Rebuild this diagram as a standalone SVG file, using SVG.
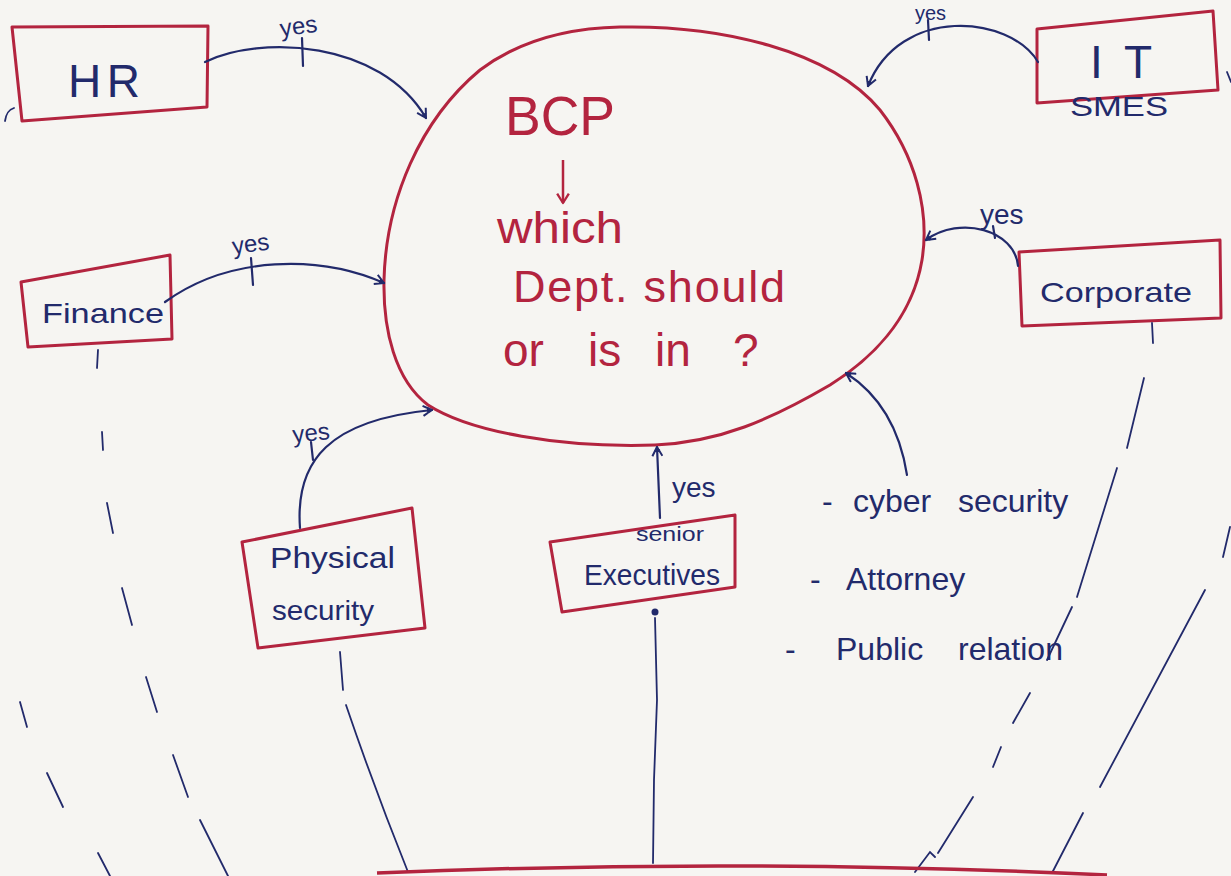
<svg xmlns="http://www.w3.org/2000/svg" width="1231" height="876" viewBox="0 0 1231 876">
  <defs>
    <marker id="head" viewBox="0 0 12 12" refX="10" refY="6" markerWidth="12" markerHeight="12" markerUnits="userSpaceOnUse" orient="auto">
      <path d="M1,1 L10,6 L1,11 M6,3 L6,9" fill="none" stroke="#222a6b" stroke-width="2" stroke-linejoin="round"/>
    </marker>
    <marker id="headRed" viewBox="0 0 12 12" refX="10" refY="6" markerWidth="14" markerHeight="14" markerUnits="userSpaceOnUse" orient="auto">
      <path d="M2,1 L10,6 L2,11" fill="none" stroke="#b3243f" stroke-width="2" stroke-linejoin="round"/>
    </marker>
  </defs>
  <style>
    .box { fill: none; stroke: #b3243f; stroke-width: 3; stroke-linejoin: round; }
    .red { fill: #b3243f; font-family: "Liberation Sans", Arial, sans-serif; }
    .ink { fill: #222a6b; font-family: "Liberation Sans", Arial, sans-serif; }
    .pen { fill: none; stroke: #222a6b; stroke-width: 2.2; stroke-linecap: round; }
    .dash { fill: none; stroke: #222a6b; stroke-width: 1.8; stroke-linecap: round; }
  </style>

  <!-- paper -->
  <rect x="0" y="0" width="1231" height="876" fill="#f6f5f2"/>

  <!-- central bubble -->
  <g id="bcp">
    <path class="box" d="M620,27 C720,25 830,50 880,110 C915,155 930,210 922,260 C912,320 870,360 830,385 C770,420 720,442 655,445 C560,448 470,432 428,405 C395,380 383,330 384,280 C386,200 420,120 480,70 C520,40 570,28 620,27 Z"/>
    <text class="red" x="505" y="135" font-size="55" textLength="110" lengthAdjust="spacingAndGlyphs">BCP</text>
    <path d="M563,160 L563,203" fill="none" stroke="#b3243f" stroke-width="2.5" marker-end="url(#headRed)"/>
    <text class="red" x="497" y="243" font-size="44" textLength="126" lengthAdjust="spacingAndGlyphs">which</text>
    <text class="red" x="513" y="302" font-size="45" textLength="272" lengthAdjust="spacing">Dept. should</text>
    <text class="red" y="366" font-size="46"><tspan x="503">or</tspan> <tspan x="588">is</tspan> <tspan x="655">in</tspan> <tspan x="733">?</tspan></text>
  </g>

  <!-- departments -->
  <g id="hr">
    <polygon class="box" points="12,27 208,26 207,107 22,121"/>
    <text class="ink" x="68" y="97" font-size="46" textLength="72" lengthAdjust="spacing">HR</text>
  </g>

  <g id="it">
    <polygon class="box" points="1037,29 1213,11 1218,90 1037,103"/>
    <text class="ink" x="1090" y="78" font-size="46" textLength="62" lengthAdjust="spacing">I T</text>
    <text class="ink" x="1070" y="116" font-size="28" textLength="98" lengthAdjust="spacingAndGlyphs">SMES</text>
  </g>

  <g id="finance">
    <polygon class="box" points="21,282 170,255 172,339 28,347"/>
    <text class="ink" x="42" y="323" font-size="28" textLength="122" lengthAdjust="spacingAndGlyphs">Finance</text>
  </g>

  <g id="corporate">
    <polygon class="box" points="1019,252 1220,240 1221,318 1022,326"/>
    <text class="ink" x="1040" y="302" font-size="28" textLength="152" lengthAdjust="spacingAndGlyphs">Corporate</text>
  </g>

  <g id="physical-security">
    <polygon class="box" points="242,542 412,508 425,628 258,648"/>
    <text class="ink" x="270" y="568" font-size="30" textLength="125" lengthAdjust="spacingAndGlyphs">Physical</text>
    <text class="ink" x="272" y="620" font-size="28" textLength="102" lengthAdjust="spacingAndGlyphs">security</text>
  </g>

  <g id="senior-executives">
    <polygon class="box" points="550,542 735,515 735,587 562,612"/>
    <text class="ink" x="636" y="541" font-size="20" textLength="68" lengthAdjust="spacingAndGlyphs">senior</text>
    <text class="ink" x="584" y="585" font-size="30" textLength="136" lengthAdjust="spacingAndGlyphs">Executives</text>
  </g>

  <g id="advisors">
    <text class="ink" y="512" font-size="32"><tspan x="822">-</tspan> <tspan x="853">cyber</tspan> <tspan x="958">security</tspan></text>
    <text class="ink" y="590" font-size="32"><tspan x="810">-</tspan> <tspan x="846">Attorney</tspan></text>
    <text class="ink" y="660" font-size="32"><tspan x="785">-</tspan> <tspan x="836">Public</tspan> <tspan x="958">relation</tspan></text>
  </g>

  <!-- connectors -->
  <g id="connectors">
    <path class="pen" d="M205,62 C260,35 380,40 426,118" marker-end="url(#head)"/>
    <path class="pen" d="M1038,62 C1010,15 900,5 868,86" marker-end="url(#head)"/>
    <path class="pen" d="M165,302 C230,255 320,255 384,283" marker-end="url(#head)"/>
    <path class="pen" d="M1018,266 C1015,230 960,215 926,240" marker-end="url(#head)"/>
    <path class="pen" d="M300,528 C295,460 330,420 432,410" marker-end="url(#head)"/>
    <path class="pen" d="M660,518 L657,447" marker-end="url(#head)"/>
    <path class="pen" d="M907,475 C900,430 880,395 846,373" marker-end="url(#head)"/>

    <!-- yes labels -->
    <g class="ink" font-size="24">
      <text x="280" y="34" transform="rotate(-8 300 28)">yes</text>
      <path class="pen" d="M302,38 L303,66"/>
      <text x="915" y="20" font-size="20">yes</text>
      <path class="pen" d="M928,20 L929,40"/>
      <text x="232" y="252" transform="rotate(-8 250 245)">yes</text>
      <path class="pen" d="M251,258 L253,285"/>
      <text x="980" y="224" font-size="28">yes</text>
      <path class="pen" d="M993,226 L995,238"/>
      <text x="292" y="440" transform="rotate(-6 320 430)">yes</text>
      <path class="pen" d="M311,442 L313,460"/>
      <text x="672" y="497" font-size="28">yes</text>
    </g>

    <!-- dashed feeds to the base line -->
    <path class="dash" d="M20,702 L27,727 M47,773 L63,807 M98,853 L110,876"/>
    <path class="dash" d="M98,350 L97,368 M102,432 L103,450 M107,503 L113,533 M122,588 L132,625 M146,677 L157,712 M173,755 L188,797 M200,820 L228,876"/>
    <path class="dash" d="M340,652 L343,690 M346,705 Q375,790 408,872"/>
    <circle cx="655" cy="612" r="3.5" fill="#222a6b"/>
    <path class="dash" d="M655,618 L657,700 L654,780 L653,863"/>
    <path class="dash" d="M1152,323 L1153,343 M1144,378 L1127,448 M1117,468 L1077,597 M1072,607 L1047,660 M1030,693 L1013,723 M1001,747 L993,767 M973,797 L938,853 M935,857 L930,852 L915,872"/>
    <path class="dash" d="M1230,527 L1223,557 M1205,590 L1100,787 M1083,813 L1052,873"/>

    <!-- stray pen marks -->
    <path class="dash" d="M14,108 C8,110 6,114 5,121"/>
    <path class="dash" d="M1227,72 L1231,82"/>
  </g>

  <!-- base line -->
  <g id="base">
    <path d="M377,873 Q740,858 1107,875" fill="none" stroke="#b3243f" stroke-width="3.5"/>
  </g>
</svg>
